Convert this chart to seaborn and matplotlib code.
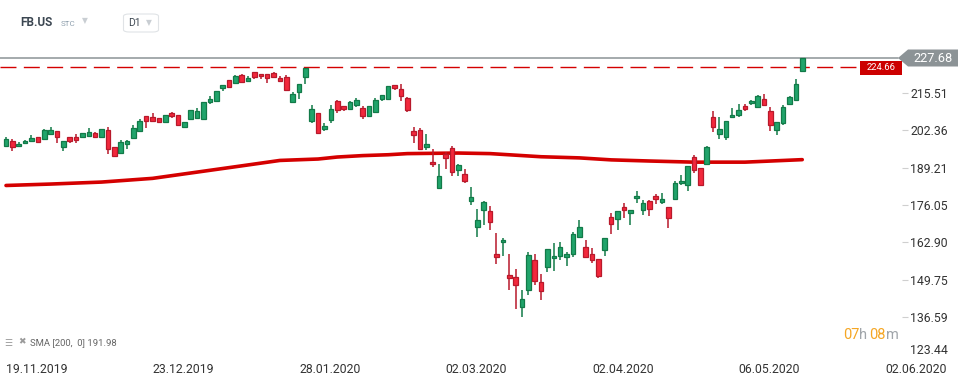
import numpy as np
import pandas as pd
import matplotlib
matplotlib.use("Agg")
import matplotlib.pyplot as plt
from matplotlib.patches import Polygon, Rectangle, FancyBboxPatch
import seaborn as sns

# daily candles FB.US, 19.11.2019 .. 20.05.2020
opens = [196.9, 198.4, 196.9, 197.7, 198.6, 199.8, 199.3, 201.1, 201.9, 196.5,
         199.8, 199.8, 200.0, 200.4, 201.2, 200.0, 202.3, 196.3, 194.4, 197.6,
         199.7, 202.2, 207.3, 206.9, 206.5, 205.3, 208.4, 207.6, 203.6, 206.3,
         206.7, 206.4, 212.3, 212.7, 217.3, 219.9, 219.0, 221.6, 219.7, 222.7,
         222.0, 222.0, 222.3, 220.6, 220.9, 212.3, 215.9, 221.1, 205.7, 208.3,
         202.6, 205.9, 212.5, 210.7, 209.9, 211.3, 210.0, 207.4, 208.8, 213.4,
         213.4, 218.1, 216.7, 213.5, 201.9, 202.3, 196.5, 191.2, 182.1, 193.9,
         196.0, 188.5, 186.9, 177.6, 168.4, 174.3, 173.9, 158.7, 162.9, 151.3,
         150.7, 140.2, 146.1, 156.6, 148.9, 154.4, 157.3, 158.0, 157.7, 158.7,
         164.9, 161.2, 158.7, 157.0, 160.1, 171.7, 171.0, 175.2, 173.1, 178.4,
         174.2, 177.4, 179.1, 177.0, 175.2, 178.1, 183.7, 183.0, 192.8, 188.9,
         190.4, 206.9, 200.9, 199.8, 206.9, 207.6, 210.7, 211.8, 210.4, 213.2,
         209.0, 202.3, 204.8, 211.6, 212.8, 223.0]
highs = [199.9, 199.2, 198.1, 198.9, 200.6, 199.9, 202.8, 203.5, 202.0, 198.5,
         199.9, 200.9, 201.3, 203.0, 201.6, 202.7, 203.4, 196.4, 198.8, 198.9,
         204.1, 206.2, 207.4, 208.3, 206.6, 207.6, 208.8, 207.7, 205.3, 209.4,
         210.0, 212.2, 214.2, 216.1, 218.2, 220.0, 221.7, 222.1, 221.4, 222.8,
         222.1, 222.1, 222.7, 221.3, 221.6, 215.7, 218.6, 224.2, 211.2, 208.4,
         204.8, 211.2, 212.9, 210.8, 212.6, 213.6, 210.8, 210.9, 213.8, 214.7,
         217.8, 218.2, 218.5, 213.9, 203.4, 203.0, 201.0, 195.6, 190.5, 194.8,
         196.8, 190.5, 188.7, 182.4, 174.7, 177.5, 175.7, 166.2, 164.5, 158.8,
         153.6, 146.2, 159.5, 158.8, 151.8, 160.6, 162.7, 163.0, 159.5, 166.6,
         170.8, 163.7, 160.9, 157.1, 164.4, 173.1, 173.9, 176.8, 174.3, 180.9,
         177.7, 177.7, 179.8, 180.2, 175.3, 184.4, 186.5, 189.7, 193.5, 189.0,
         196.7, 209.0, 206.9, 205.5, 210.0, 211.4, 211.4, 212.8, 214.6, 214.9,
         210.4, 205.2, 211.1, 214.2, 220.3, 227.7]
lows = [196.6, 195.1, 196.7, 197.5, 198.5, 198.0, 199.2, 201.0, 197.9, 195.0,
        197.8, 197.8, 199.9, 200.0, 199.9, 199.9, 194.1, 193.0, 194.3, 195.8,
        199.6, 202.0, 203.2, 205.6, 204.9, 205.2, 206.5, 203.8, 203.2, 205.9,
        206.6, 206.3, 211.5, 212.6, 216.2, 217.3, 218.9, 219.0, 219.6, 220.4,
        220.4, 218.9, 221.0, 219.4, 216.2, 212.2, 213.4, 218.4, 204.8, 201.1,
        202.1, 205.0, 208.5, 209.2, 209.4, 210.6, 206.4, 207.3, 208.7, 212.7,
        213.3, 216.4, 212.7, 208.8, 197.9, 195.7, 195.4, 189.5, 181.8, 188.7,
        186.3, 186.3, 183.9, 176.0, 164.9, 169.0, 167.3, 155.4, 158.2, 146.3,
        139.6, 136.8, 144.5, 148.0, 142.8, 152.4, 153.0, 156.8, 154.7, 157.9,
        164.3, 157.6, 155.7, 150.5, 158.1, 166.0, 167.4, 171.6, 169.1, 176.6,
        172.6, 172.3, 176.5, 176.5, 168.1, 177.9, 183.0, 180.9, 187.4, 182.9,
        190.0, 201.6, 199.1, 198.8, 206.5, 206.9, 209.0, 211.1, 210.3, 211.0,
        201.9, 200.5, 204.1, 211.1, 212.7, 223.0]
closes = [199.1, 196.5, 197.4, 198.5, 199.5, 198.1, 202.3, 202.3, 200.0, 198.4,
          198.6, 198.9, 201.2, 201.6, 200.0, 202.6, 195.8, 193.4, 198.1, 198.5,
          203.0, 205.5, 205.7, 205.7, 205.3, 207.6, 207.3, 204.2, 205.2, 209.3,
          209.0, 212.1, 213.3, 216.0, 218.1, 217.5, 221.4, 219.3, 220.6, 221.1,
          221.3, 220.7, 221.1, 219.7, 216.6, 214.9, 218.5, 224.1, 209.7, 201.5,
          203.8, 209.7, 209.5, 209.9, 212.1, 212.9, 207.4, 210.8, 212.9, 214.6,
          217.8, 217.3, 214.5, 209.5, 200.5, 195.8, 197.5, 190.4, 186.2, 192.7,
          187.7, 190.0, 184.6, 178.8, 170.8, 177.0, 169.9, 157.7, 163.7, 150.3,
          147.8, 143.0, 158.4, 149.2, 145.7, 160.5, 158.1, 161.2, 158.7, 165.8,
          168.2, 157.7, 156.8, 151.2, 164.3, 169.3, 173.8, 174.2, 174.2, 179.1,
          176.6, 174.5, 178.1, 178.1, 171.4, 183.7, 184.4, 189.6, 188.2, 183.0,
          196.3, 203.4, 202.6, 205.5, 207.6, 209.3, 209.7, 212.5, 214.2, 211.1,
          204.1, 205.1, 210.4, 213.9, 218.5, 227.68]

# SMA(200) readings at some bars
sma_bar = [0, 7, 15, 23, 30, 37, 43, 49, 52, 56, 60, 63, 71, 76, 84, 90, 95,
           101, 108, 116, 125]
sma_val = [182.9, 183.4, 184.1, 185.4, 187.6, 189.8, 191.7, 192.2, 192.9,
           193.4, 193.7, 194.1, 194.3, 194.1, 193.0, 192.6, 191.9, 191.5,
           191.1, 191.1, 191.98]

date_bar = [0, 23, 46, 69, 92, 115, 138]
date_lbl = ["19.11.2019", "23.12.2019", "28.01.2020", "02.03.2020",
            "02.04.2020", "06.05.2020", "02.06.2020"]
price_ticks = [215.51, 202.36, 189.21, 176.05, 162.90, 149.75, 136.59]
bottom_tick = "123.44"
last_price = 227.68
level = 224.66
sma_last = 191.98

GREEN, GREEN_EDGE = "#20a46b", "#127a48"
RED, RED_EDGE = "#f2283c", "#b8192b"

sns.set_style("white")
plt.rcParams["font.family"] = ["Roboto", "DejaVu Sans"]

W, H = 970, 381
fig = plt.figure(figsize=(W / 100, H / 100), dpi=100)


def px(x, y):
    return x / W, 1 - y / H


ax = fig.add_axes([0, (H - 355) / H, 902 / W, 355 / H])
ax.set_xlim(-0.942, 140.66)
ax.set_ylim(123.33, 248.08)
for s in ax.spines.values():
    s.set_visible(False)

df = pd.DataFrame({"open": opens, "high": highs, "low": lows, "close": closes})
df["bar"] = np.arange(len(df))
up = df["close"] >= df["open"]

sns.lineplot(x=sma_bar, y=sma_val, ax=ax, color="#d40000", linewidth=2.6,
             zorder=2)

for is_up, fill, edge in [(True, GREEN, GREEN_EDGE), (False, RED, RED_EDGE)]:
    d = df[up == is_up]
    ax.vlines(d["bar"], d["low"], d["high"], color=edge, linewidth=1.1,
              zorder=3)
    bottom = d[["open", "close"]].min(axis=1)
    height = (d["close"] - d["open"]).abs().clip(lower=0.6)
    ax.bar(d["bar"], height, bottom=bottom, width=0.72, color=fill,
           edgecolor=edge, linewidth=0.9, zorder=4)

ax.axhline(last_price, xmin=0, xmax=898 / 902, color="#8c9396",
           linewidth=1.1, zorder=1)
ax.axhline(level, xmin=0, xmax=860 / 902, color="#d40000", linewidth=1.0,
           linestyle=(0, (11.5, 5.3)), zorder=1)

ax.yaxis.tick_right()
ax.set_yticks(price_ticks, [f"{v:.2f}" for v in price_ticks])
ax.tick_params(axis="y", length=4, width=0.8, color="#cfcfcf", pad=2,
               labelsize=8.8, labelcolor="#333333")
ax.set_xticks(date_bar, date_lbl)
ax.tick_params(axis="x", length=0, pad=6, labelsize=8.8,
               labelcolor="#333333")
for t in ax.get_xticklabels():
    t.set_ha("left")

fig.text(*px(910, 350), bottom_tick, fontsize=8.8, color="#333333",
         va="center", ha="left")

# price labels on the right
fig.patches.append(Polygon([px(898, 58), px(908, 49.5), px(958, 49.5),
                            px(958, 66.5), px(908, 66.5)], closed=True,
                           transform=fig.transFigure, facecolor="#8c9396",
                           edgecolor="none", zorder=5))
fig.text(*px(933, 58), f"{last_price:.2f}", fontsize=9.2, color="white",
         ha="center", va="center", zorder=6)
fig.patches.append(Rectangle(px(860, 75), 42 / W, 14 / H,
                             transform=fig.transFigure, facecolor="#cc0000",
                             edgecolor="none", zorder=5))
fig.text(*px(881, 68), f"{level:.2f}", fontsize=6.8, color="white",
         ha="center", va="center", zorder=6)

# countdown
for xx, s, c in [(843, "07", "#f5a623"), (859, "h", "#a0a5aa"),
                 (869, "08", "#f5a623"), (886, "m", "#a0a5aa")]:
    fig.text(*px(xx, 335), s, fontsize=10.5, color=c, ha="left", va="center")

# indicator legend
fig.text(*px(4, 343), "\u2630", fontsize=6.5, color="#9a9a9a", va="center",
         family=["DejaVu Sans"])
fig.text(*px(18, 342), "\u2716", fontsize=6.5, color="#9a9a9a", va="center",
         family=["DejaVu Sans"])
fig.text(*px(30, 343), f"SMA [200,  0] {sma_last:.2f}", fontsize=6.8,
         color="#666666", va="center")

# header
fig.text(*px(20, 23), "FB.US", fontsize=8.5, fontweight="bold",
         color="#3b4651", va="center")
fig.text(*px(61, 24), "STC", fontsize=5.8, color="#8fa0ae", va="center")
fig.text(*px(82, 21), "\u25bc", fontsize=5.5, color="#c9ced3", va="center",
         family=["DejaVu Sans"])
fig.patches.append(FancyBboxPatch(px(123.5, 32), 35 / W, 18 / H,
                                  boxstyle="round,pad=0,rounding_size=0.006",
                                  transform=fig.transFigure, facecolor="white",
                                  edgecolor="#e0e3e6", linewidth=0.8, zorder=5))
fig.text(*px(128, 23), "D1", fontsize=7.5, color="#404a54", va="center",
         zorder=6)
fig.text(*px(146, 23), "\u25bc", fontsize=5.5, color="#c9ced3", va="center",
         family=["DejaVu Sans"], zorder=6)

fig.savefig("out.png", dpi=100)
